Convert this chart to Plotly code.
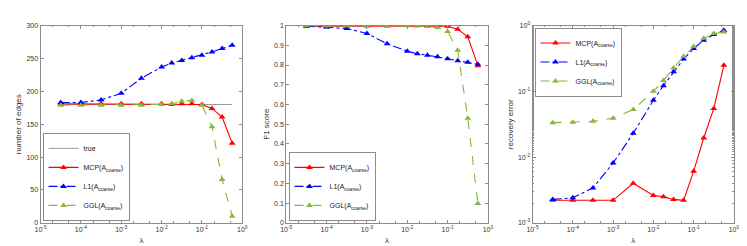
import plotly.graph_objects as go

lam_exp = [-4.5, -4, -3.5, -3, -2.5, -2, -1.75, -1.5, -1.25, -1, -0.75, -0.5, -0.25]
lam = [10 ** e for e in lam_exp]

true_edges = [180] * len(lam)
edges_mcp = [181, 181, 181, 181, 181, 181, 180, 181, 181, 180, 174, 161, 121]
edges_l1 = [183, 183, 187, 197, 220, 237, 243, 247, 251, 255, 260, 265, 270]
edges_ggl = [179, 179, 179, 179, 179, 180, 181, 185, 186, 179, 146, 66, 10]

f1_mcp = [0.997, 0.997, 0.998, 0.998, 0.998, 1.0, 1.0, 1.0, 1.0, 0.997, 0.982, 0.943, 0.797]
f1_l1 = [0.997, 0.992, 0.985, 0.96, 0.908, 0.87, 0.857, 0.85, 0.842, 0.832, 0.822, 0.814, 0.804]
f1_ggl = [0.999, 0.999, 0.999, 0.999, 0.999, 0.999, 0.998, 0.995, 0.99, 0.97, 0.875, 0.53, 0.098]

err_mcp = [2.2e-3, 2.2e-3, 2.2e-3, 2.2e-3, 4.0e-3, 2.6e-3, 2.5e-3, 2.27e-3, 2.2e-3, 6.1e-3, 0.0195, 0.055, 0.249]
err_l1 = [2.27e-3, 2.4e-3, 3.4e-3, 8.1e-3, 0.023, 0.073, 0.122, 0.198, 0.31, 0.45, 0.6, 0.73, 0.85]
err_ggl = [0.0334, 0.034, 0.035, 0.039, 0.053, 0.1, 0.146, 0.227, 0.34, 0.48, 0.64, 0.76, 0.8]

names = ["MCP(A<sub>coarse</sub>)", "L1(A<sub>coarse</sub>)", "GGL(A<sub>coarse</sub>)"]
colors = ["#ff0000", "#0000ff", "#86b83a"]
dashes = ["solid", "dashdot", "dash"]

x_ticks = [1e-5, 1e-4, 1e-3, 1e-2, 1e-1, 1e0]
x_ticktext = ["10<sup>-5</sup>", "10<sup>-4</sup>", "10<sup>-3</sup>", "10<sup>-2</sup>", "10<sup>-1</sup>", "10<sup>0</sup>"]
y1_ticks = [0, 50, 100, 150, 200, 250, 300]
y2_ticks = [0, 0.1, 0.2, 0.3, 0.4, 0.5, 0.6, 0.7, 0.8, 0.9, 1]
y2_ticktext = ["0", "0.1", "0.2", "0.3", "0.4", "0.5", "0.6", "0.7", "0.8", "0.9", "1"]
y3_ticks = [1e-3, 1e-2, 1e-1, 1e0]
y3_ticktext = ["10<sup>-3</sup>", "10<sup>-2</sup>", "10<sup>-1</sup>", "10<sup>0</sup>"]

FONT = "Liberation Sans, Arial, sans-serif"
AX = "#8c8c8c"

fig = go.Figure()

# panel 1
fig.add_trace(go.Scatter(x=lam, y=true_edges, mode="lines", name="true",
                         line=dict(color="#9a9a9a", width=1), xaxis="x", yaxis="y", legend="legend"))
for vals, n, c, d in zip([edges_mcp, edges_l1, edges_ggl], names, colors, dashes):
    fig.add_trace(go.Scatter(x=lam, y=vals, mode="lines+markers", name=n,
                             line=dict(color=c, width=1.1, dash=d),
                             marker=dict(symbol="triangle-up", size=6, color=c),
                             xaxis="x", yaxis="y", legend="legend"))
# panel 2
for vals, n, c, d in zip([f1_mcp, f1_l1, f1_ggl], names, colors, dashes):
    fig.add_trace(go.Scatter(x=lam, y=vals, mode="lines+markers", name=n,
                             line=dict(color=c, width=1.1, dash=d),
                             marker=dict(symbol="triangle-up", size=6, color=c),
                             xaxis="x2", yaxis="y2", legend="legend2"))
# panel 3
for vals, n, c, d in zip([err_mcp, err_l1, err_ggl], names, colors, dashes):
    fig.add_trace(go.Scatter(x=lam, y=vals, mode="lines+markers", name=n,
                             line=dict(color=c, width=1.1, dash=d),
                             marker=dict(symbol="triangle-up", size=6, color=c),
                             xaxis="x3", yaxis="y3", legend="legend3"))

ydom = [1 - 217 / 246, 1 - 14 / 246]
xdoms = [[27 / 747, 232 / 747], [276.7 / 747, 481.7 / 747], [527 / 747, 731.7 / 747]]

def xax(dom, anchor):
    return dict(domain=dom, anchor=anchor, type="log", range=[-5, 0],
                tickvals=x_ticks, ticktext=x_ticktext, ticks="inside", ticklen=3,
                tickcolor=AX, linecolor=AX, linewidth=1, mirror="ticks", showline=True,
                showgrid=False, zeroline=False,
                minor=dict(ticks="inside", ticklen=1.5, tickcolor=AX, showgrid=False),
                title=dict(text="λ", standoff=5, font=dict(size=8)),
                tickfont=dict(size=7, color="#333"))

def yax(dom, anchor, **kw):
    d = dict(domain=dom, anchor=anchor, ticks="inside", ticklen=3, tickcolor=AX,
             linecolor=AX, linewidth=1, mirror="ticks", showline=True, showgrid=False,
             zeroline=False, tickfont=dict(size=7, color="#333"))
    d.update(kw)
    return d

legend_common = dict(bgcolor="white", bordercolor=AX, borderwidth=1,
                     font=dict(size=7, family=FONT, color="#222"),
                     xanchor="left", tracegroupgap=0, itemwidth=30)

fig.update_layout(
    width=747, height=246,
    margin=dict(l=0, r=0, t=0, b=0),
    paper_bgcolor="white", plot_bgcolor="white",
    font=dict(family=FONT, size=7, color="#333"),
    xaxis=xax(xdoms[0], "y"),
    xaxis2=xax(xdoms[1], "y2"),
    xaxis3=xax(xdoms[2], "y3"),
    yaxis=yax(ydom, "x", range=[0, 300], tickvals=y1_ticks,
              title=dict(text="number of edges", standoff=3, font=dict(size=8))),
    yaxis2=yax(ydom, "x2", range=[0, 1], tickvals=y2_ticks, ticktext=y2_ticktext,
               title=dict(text="F1 score", standoff=3, font=dict(size=8))),
    yaxis3=yax(ydom, "x3", type="log", range=[-3, 0], tickvals=y3_ticks, ticktext=y3_ticktext,
               minor=dict(ticks="inside", ticklen=1.5, tickcolor=AX, showgrid=False),
               title=dict(text="recovery error", standoff=3, font=dict(size=8))),
    legend=dict(x=29 / 747, y=1 - 215 / 246, yanchor="bottom", **legend_common),
    legend2=dict(x=279 / 747, y=1 - 215 / 246, yanchor="bottom", **legend_common),
    legend3=dict(x=529 / 747, y=1 - 16 / 246, yanchor="top", **legend_common),
    showlegend=True,
)

fig.write_html("out.html")
